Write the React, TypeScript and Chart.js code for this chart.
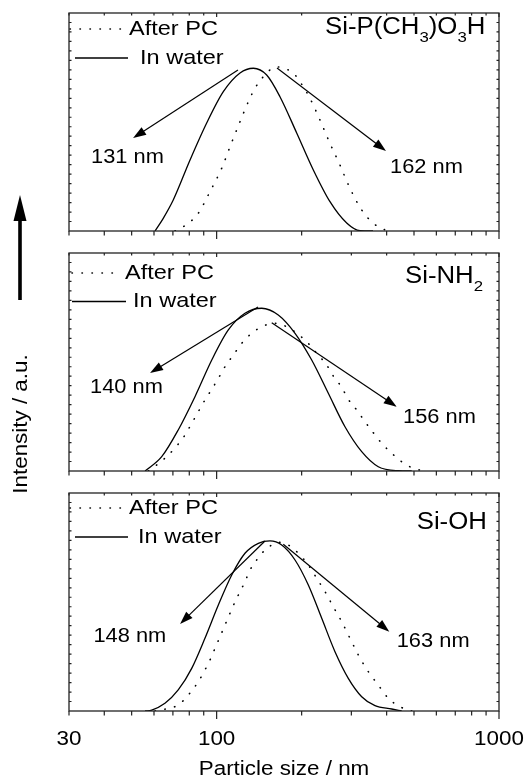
import React, { useEffect, useRef } from 'react';
import { Chart, registerables } from 'chart.js';

Chart.register(...registerables);

// ---------------- DATA ----------------
// Panel 1: Si-P(CH3)O3H
const phosWaterSize = [60.5, 64.7, 70.2, 80.5, 92.2, 105.6, 121.0, 134.9, 150.4, 167.6, 192.1, 220.0, 252.0, 288.8, 321.9, 357.9];
const phosWaterInt = [0, 1.34, 3.27, 7.49, 11.39, 14.70, 16.67, 17.17, 16.46, 14.17, 10.34, 6.44, 3.09, 0.84, 0.03, 0];
const phosPcSize = [71.2, 79.4, 86.1, 94.7, 104.2, 111.5, 121.0, 129.5, 136.7, 146.3, 158.7, 165.3, 172.2, 189.5, 202.6, 214.1, 232.3, 252.0, 273.4, 296.7, 326.4, 358.8, 394.7];
const phosPcInt = [0, 0.81, 1.87, 4.15, 6.62, 8.89, 11.53, 13.64, 15.06, 16.28, 17.22, 17.3, 17.22, 16.46, 15.22, 14.00, 11.71, 9.25, 6.96, 4.50, 2.22, 0.81, 0.11];

// Panel 2: Si-NH2
const aminoWaterSize = [55.8, 63.9, 73.1, 83.8, 96.1, 110.0, 126.0, 144.4, 165.3, 189.5, 217.1, 248.6, 284.8, 326.4, 373.7, 440.0, 490.7];
const aminoWaterInt = [0, 1.51, 4.33, 7.84, 11.71, 14.88, 16.64, 17.17, 16.46, 14.53, 11.71, 8.20, 4.67, 2.04, 0.45, 0.03, 0];
const aminoPcSize = [57.3, 61.3, 66.5, 72.2, 77.3, 81.6, 86.1, 90.9, 96.1, 101.4, 107.0, 114.6, 122.7, 133.1, 146.3, 160.9, 177.1, 192.1, 208.4, 226.2, 245.3, 258.9, 277.3, 292.6, 313.4, 335.3, 358.8, 384.2, 416.9, 452.3, 497.2, 547.0];
const aminoPcInt = [0, 0.63, 1.51, 2.64, 3.80, 5.03, 6.26, 7.49, 8.62, 9.78, 11.00, 12.24, 13.47, 14.53, 15.30, 15.58, 15.22, 14.53, 13.64, 12.42, 11.18, 10.02, 8.83, 7.56, 6.44, 5.20, 4.04, 2.92, 1.87, 0.98, 0.28, 0];

// Panel 3: Si-OH
const hydroxWaterSize = [55.8, 58.9, 65.6, 73.1, 81.6, 90.9, 101.4, 113.1, 126.0, 140.5, 154.5, 170.0, 189.5, 211.2, 235.6, 262.5, 292.6, 326.4, 363.8, 416.9, 452.3];
const hydroxWaterInt = [0, 0.1, 0.81, 2.22, 4.50, 7.67, 11.18, 14.35, 16.64, 17.69, 17.94, 17.51, 15.93, 13.29, 9.78, 6.26, 3.45, 1.51, 0.56, 0.21, 0];
const hydroxPcSize = [60.5, 67.4, 73.1, 79.4, 86.1, 90.9, 94.7, 98.7, 102.8, 107.0, 111.5, 116.2, 121.0, 126.0, 131.3, 138.6, 148.3, 156.7, 165.3, 179.4, 194.7, 211.2, 226.2, 242.0, 258.9, 277.3, 296.7, 317.5, 344.5, 373.7, 405.5, 446.1, 490.7];
const hydroxPcInt = [0, 0.28, 0.63, 1.69, 3.09, 4.33, 5.38, 6.62, 7.84, 9.07, 10.31, 11.53, 12.59, 13.64, 14.88, 15.93, 16.99, 17.51, 17.80, 17.51, 16.64, 15.40, 14.00, 12.59, 11.00, 9.42, 7.67, 5.91, 4.15, 2.74, 1.34, 0.45, 0];

// Peak annotations (label anchor + arrow from/to, in data units)
const phosPeakLabels = ['131 nm', '162 nm'];
const phosLabelAt = [[35.9, 7.7], [411.2, 6.65]];
const phosArrowFrom = [[119.0, 16.99], [163.6, 17.2]];
const phosArrowTo = [[50.6, 9.81], [397.9, 8.44]];

const aminoPeakLabels = ['140 nm', '156 nm'];
const aminoLabelAt = [[35.6, 8.76], [457.1, 5.59]];
const aminoArrowFrom = [[140.1, 17.3], [156.7, 15.65]];
const aminoArrowTo = [[58.1, 10.34], [434.3, 6.78]];

const hydroxPeakLabels = ['148 nm', '163 nm'];
const hydroxLabelAt = [[36.6, 7.84], [434.3, 7.31]];
const hydroxArrowFrom = [[148.3, 17.94], [172.2, 17.59]];
const hydroxArrowTo = [[74.2, 9.18], [408.8, 8.37]];

// Titles (segments; sub = subscript)
const phosTitle = [{ t: 'Si-P(CH' }, { t: '3', sub: true }, { t: ')O' }, { t: '3', sub: true }, { t: 'H' }];
const aminoTitle = [{ t: 'Si-NH' }, { t: '2', sub: true }];
const hydroxTitle = [{ t: 'Si-OH' }];

// Axes
const xMin = 30;
const xMax = 1000;
const xTickValues = [30, 40, 50, 60, 70, 80, 90, 100, 200, 300, 400, 500, 600, 700, 800, 900, 1000];
const xMajorValues = [100, 1000];
const xLabelValues = [30, 100, 1000];
const xLabelTexts = ['30', '100', '1000'];
const yMin = 0;
const yMax = 23;
const yTickValues = Array.from({ length: 22 }, (_, i) => i + 1);

const legendLabels = ['After PC', 'In water'];
const xAxisTitle = 'Particle size / nm';
const yAxisTitle = 'Intensity / a.u.';

// ---------------- LAYOUT / STYLE ----------------
const W = 531;
const H = 778;
const FONT = '"Liberation Sans", Arial, Helvetica, sans-serif';
const STRETCH = 1.12;
const PLOT_LEFT = 69;
const PLOT_RIGHT = 499;

type Seg = { t: string; sub?: boolean };
type PanelCfg = {
  top: number;
  bottom: number;
  waterX: number[]; waterY: number[];
  pcX: number[]; pcY: number[];
  peakLabels: string[]; labelAt: number[][]; arrowFrom: number[][]; arrowTo: number[][];
  title: Seg[]; titleLeft: number; titleBase: number;
  legDotY: number; legDotX: [number, number]; legDotText: number;
  legSolY: number; legSolX: [number, number]; legSolText: number;
};

const panels: PanelCfg[] = [
  {
    top: 13, bottom: 231,
    waterX: phosWaterSize, waterY: phosWaterInt, pcX: phosPcSize, pcY: phosPcInt,
    peakLabels: phosPeakLabels, labelAt: phosLabelAt, arrowFrom: phosArrowFrom, arrowTo: phosArrowTo,
    title: phosTitle, titleLeft: 325, titleBase: 20.5,
    legDotY: 16, legDotX: [70, 122], legDotText: 129,
    legSolY: 45, legSolX: [75, 128], legSolText: 140,
  },
  {
    top: 253, bottom: 471,
    waterX: aminoWaterSize, waterY: aminoWaterInt, pcX: aminoPcSize, pcY: aminoPcInt,
    peakLabels: aminoPeakLabels, labelAt: aminoLabelAt, arrowFrom: aminoArrowFrom, arrowTo: aminoArrowTo,
    title: aminoTitle, titleLeft: 405, titleBase: 30.3,
    legDotY: 20, legDotX: [72, 117], legDotText: 125,
    legSolY: 48.5, legSolX: [72, 126], legSolText: 133,
  },
  {
    top: 493, bottom: 711,
    waterX: hydroxWaterSize, waterY: hydroxWaterInt, pcX: hydroxPcSize, pcY: hydroxPcInt,
    peakLabels: hydroxPeakLabels, labelAt: hydroxLabelAt, arrowFrom: hydroxArrowFrom, arrowTo: hydroxArrowTo,
    title: hydroxTitle, titleLeft: 416.7, titleBase: 36.3,
    legDotY: 15, legDotX: [70, 122], legDotText: 129,
    legSolY: 44, legSolX: [75, 128], legSolText: 138,
  },
];

function drawText(ctx: CanvasRenderingContext2D, text: string, x: number, y: number, size: number,
  align: 'left' | 'center' | 'right' = 'left', baseline: CanvasTextBaseline = 'middle'): number {
  ctx.save();
  ctx.font = `${size}px ${FONT}`;
  ctx.textBaseline = baseline;
  ctx.textAlign = 'left';
  ctx.fillStyle = '#000';
  const w = ctx.measureText(text).width * STRETCH;
  let x0 = x;
  if (align === 'center') x0 = x - w / 2;
  else if (align === 'right') x0 = x - w;
  ctx.translate(x0, y);
  ctx.scale(STRETCH, 1);
  ctx.fillText(text, 0, 0);
  ctx.restore();
  return w;
}

function drawArrow(ctx: CanvasRenderingContext2D, x1: number, y1: number, x2: number, y2: number,
  headLen: number, headHalf: number, lw: number) {
  const dx = x2 - x1, dy = y2 - y1;
  const len = Math.hypot(dx, dy);
  const ux = dx / len, uy = dy / len;
  const bx = x2 - ux * headLen, by = y2 - uy * headLen;
  ctx.save();
  ctx.strokeStyle = '#000';
  ctx.fillStyle = '#000';
  ctx.lineWidth = lw;
  ctx.beginPath();
  ctx.moveTo(x1, y1);
  ctx.lineTo(bx + ux * 1, by + uy * 1);
  ctx.stroke();
  ctx.beginPath();
  ctx.moveTo(x2, y2);
  ctx.lineTo(bx - uy * headHalf, by + ux * headHalf);
  ctx.lineTo(bx + uy * headHalf, by - ux * headHalf);
  ctx.closePath();
  ctx.fill();
  ctx.restore();
}

function makeDecorPlugin(p: PanelCfg, index: number) {
  return {
    id: 'decor' + index,
    afterDraw(chart: any) {
      const ctx: CanvasRenderingContext2D = chart.ctx;
      const a = chart.chartArea;
      const xs = chart.scales.x;
      const ys = chart.scales.y;
      ctx.save();
      // frame
      ctx.strokeStyle = '#222';
      ctx.lineWidth = 1.3;
      ctx.strokeRect(a.left, a.top, a.right - a.left, a.bottom - a.top);
      // x ticks: outward at bottom, inward at top
      ctx.lineWidth = 1.2;
      ctx.beginPath();
      for (const v of xTickValues) {
        const px = xs.getPixelForValue(v);
        const major = xMajorValues.includes(v);
        ctx.moveTo(px, a.bottom);
        ctx.lineTo(px, a.bottom + (major ? 8 : 4.5));
        ctx.moveTo(px, a.top);
        ctx.lineTo(px, a.top + (major ? 4 : 2.5));
      }
      // y ticks: inward both sides
      for (const v of yTickValues) {
        const py = ys.getPixelForValue(v);
        ctx.moveTo(a.left, py);
        ctx.lineTo(a.left + 2.5, py);
        ctx.moveTo(a.right, py);
        ctx.lineTo(a.right - 2.5, py);
      }
      ctx.stroke();

      // legend
      ctx.strokeStyle = '#000';
      ctx.lineWidth = 1.6;
      ctx.setLineDash([0.4, 9.6]);
      ctx.lineCap = 'round';
      ctx.beginPath();
      ctx.moveTo(p.legDotX[0], a.top + p.legDotY);
      ctx.lineTo(p.legDotX[1], a.top + p.legDotY);
      ctx.stroke();
      ctx.setLineDash([]);
      ctx.lineCap = 'butt';
      ctx.lineWidth = 1.3;
      ctx.beginPath();
      ctx.moveTo(p.legSolX[0], a.top + p.legSolY);
      ctx.lineTo(p.legSolX[1], a.top + p.legSolY);
      ctx.stroke();
      drawText(ctx, legendLabels[0], p.legDotText, a.top + p.legDotY, 21);
      drawText(ctx, legendLabels[1], p.legSolText, a.top + p.legSolY, 21);

      // title with subscripts
      let tx = p.titleLeft;
      const base = a.top + p.titleBase;
      for (const s of p.title) {
        if (s.sub) tx += drawText(ctx, s.t, tx, base + 8, 15, 'left', 'alphabetic');
        else tx += drawText(ctx, s.t, tx, base, 23, 'left', 'alphabetic');
      }

      // peak arrows and labels
      for (let i = 0; i < p.peakLabels.length; i++) {
        const f = p.arrowFrom[i], t = p.arrowTo[i], l = p.labelAt[i];
        drawArrow(ctx, xs.getPixelForValue(f[0]), ys.getPixelForValue(f[1]),
          xs.getPixelForValue(t[0]), ys.getPixelForValue(t[1]), 13, 4.5, 1.2);
        drawText(ctx, p.peakLabels[i], xs.getPixelForValue(l[0]), ys.getPixelForValue(l[1]), 19.5);
      }

      if (index === 1) {
        // y-axis title + big arrow
        ctx.save();
        ctx.translate(21, 424);
        ctx.rotate(-Math.PI / 2);
        drawText(ctx, yAxisTitle, 0, 0, 20, 'center', 'middle');
        ctx.restore();
        ctx.fillStyle = '#000';
        ctx.fillRect(18.2, 219, 3.6, 81);
        ctx.beginPath();
        ctx.moveTo(20, 195);
        ctx.lineTo(13.5, 221);
        ctx.lineTo(26.5, 221);
        ctx.closePath();
        ctx.fill();
      }
      if (index === 2) {
        for (let i = 0; i < xLabelValues.length; i++) {
          drawText(ctx, xLabelTexts[i], xs.getPixelForValue(xLabelValues[i]), 745, 20, 'center', 'alphabetic');
        }
        drawText(ctx, xAxisTitle, (a.left + a.right) / 2, 775, 20, 'center', 'alphabetic');
      }
      ctx.restore();
    },
  };
}

function toPoints(xs: number[], ys: number[]) {
  return xs.map((x, i) => ({ x, y: ys[i] }));
}

function PanelChart({ p, index }: { p: PanelCfg; index: number }) {
  const ref = useRef<HTMLCanvasElement | null>(null);
  useEffect(() => {
    if (!ref.current) return;
    const chart = new Chart(ref.current, {
      type: 'line',
      data: {
        datasets: [
          {
            label: legendLabels[0],
            data: toPoints(p.pcX, p.pcY),
            borderColor: '#000',
            borderWidth: 1.6,
            borderDash: [0.4, 9.6],
            borderCapStyle: 'round',
            pointRadius: 0,
            fill: false,
            cubicInterpolationMode: 'monotone',
          },
          {
            label: legendLabels[1],
            data: toPoints(p.waterX, p.waterY),
            borderColor: '#000',
            borderWidth: 1.3,
            pointRadius: 0,
            fill: false,
            cubicInterpolationMode: 'monotone',
          },
        ],
      },
      options: {
        responsive: false,
        devicePixelRatio: 1,
        animation: false,
        events: [],
        layout: {
          padding: { left: PLOT_LEFT, right: W - PLOT_RIGHT, top: p.top, bottom: H - p.bottom },
        },
        scales: {
          x: { type: 'logarithmic', min: xMin, max: xMax, display: false },
          y: { type: 'linear', min: yMin, max: yMax, display: false },
        },
        plugins: {
          legend: { display: false },
          tooltip: { enabled: false },
        },
      } as any,
      plugins: [makeDecorPlugin(p, index)],
    });
    return () => chart.destroy();
  }, []);
  return (
    <canvas
      ref={ref}
      width={W}
      height={H}
      style={{ position: 'absolute', left: 0, top: 0, width: W, height: H }}
    />
  );
}

export default function App() {
  return (
    <div style={{ position: 'fixed', left: 0, top: 0, width: W, height: H, background: '#fff' }}>
      {panels.map((p, i) => (
        <PanelChart key={i} p={p} index={i} />
      ))}
    </div>
  );
}
